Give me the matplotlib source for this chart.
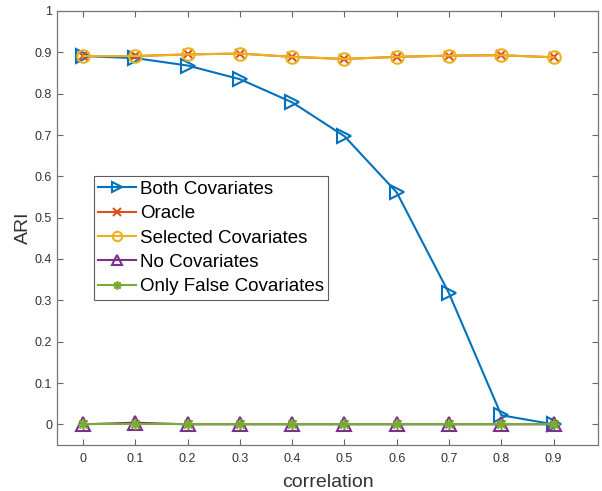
import numpy as np
import matplotlib
matplotlib.use('Agg')
import matplotlib.pyplot as plt

plt.rcParams['font.family'] = ['Liberation Sans', 'DejaVu Sans']

# 数据
correlation = [0, 0.1, 0.2, 0.3, 0.4, 0.5, 0.6, 0.7, 0.8, 0.9]
both_cov = [0.891, 0.886, 0.868, 0.835, 0.779, 0.697, 0.561, 0.317, 0.022, 0.0]
oracle = [0.891, 0.891, 0.895, 0.897, 0.889, 0.884, 0.889, 0.892, 0.893, 0.888]
selected_cov = [0.891, 0.891, 0.895, 0.897, 0.889, 0.884, 0.889, 0.892, 0.893, 0.888]
no_cov = [0.0, 0.004, 0.0, 0.0, 0.0, 0.0, 0.0, 0.0, 0.0, 0.0]
only_false = [0.0, 0.0, 0.0, 0.0, 0.0, 0.0, 0.0, 0.0, 0.0, 0.0]

fig = plt.figure(figsize=(6.02, 4.91), dpi=100)
ax = fig.add_axes([57 / 602, 1 - 445 / 491, 541 / 602, 434 / 491])

lw = 1.5
ax.plot(correlation, both_cov, color='#0072BD', lw=lw, marker='>', ms=10,
        mfc='none', mew=1.5, label='Both Covariates')
ax.plot(correlation, oracle, color='#D95319', lw=lw, marker='x', ms=7,
        mew=1.5, label='Oracle')
ax.plot(correlation, selected_cov, color='#EDB120', lw=lw, marker='o', ms=9,
        mfc='none', mew=1.5, label='Selected Covariates')
ax.plot(correlation, no_cov, color='#7E2F8E', lw=lw, marker='^', ms=10,
        mfc='none', mew=1.5, label='No Covariates')
ax.plot(correlation, only_false, color='#77AC30', lw=lw, marker=(8, 2, 0), ms=8,
        mew=1.2, label='Only False Covariates')

ax.set_xlim(-0.05, 0.985)
ax.set_ylim(-0.05, 1)
ax.set_xticks(correlation)
ax.set_xticklabels([f'{v:g}' for v in correlation])
ax.set_yticks(np.round(np.arange(0, 1.01, 0.1), 1))
ax.set_yticklabels(['0', '0.1', '0.2', '0.3', '0.4', '0.5', '0.6', '0.7', '0.8', '0.9', '1'])
ax.tick_params(direction='in', top=True, right=True, length=4, width=0.8,
               labelsize=9, color='#666666', labelcolor='#333333')
ax.tick_params(axis='x', pad=6)
for sp in ax.spines.values():
    sp.set_color('#777777')
    sp.set_linewidth(0.9)

ax.set_xlabel('correlation', fontsize=14, color='#333333', labelpad=6)
ax.set_ylabel('ARI', fontsize=14, color='#333333', labelpad=2)

leg = ax.legend(loc='upper left', bbox_to_anchor=(0.068, 0.62), fontsize=13.5,
                frameon=True, fancybox=False, edgecolor='#333333',
                handlelength=2.0, handletextpad=0.2, borderpad=0.25,
                labelspacing=0.39, borderaxespad=0, markerscale=0.75)
leg.get_frame().set_linewidth(0.8)

plt.savefig('out.png', dpi=100)
plt.close()
